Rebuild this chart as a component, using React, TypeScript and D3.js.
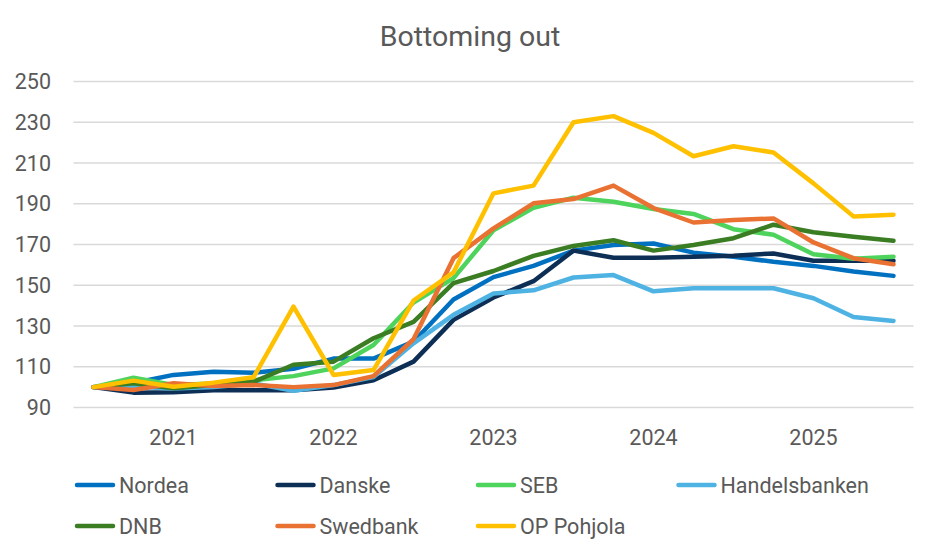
import * as d3 from "d3";
import { useEffect, useRef } from "react";

// quarterly index values, start = 100
const quarters = d3.range(21).map((i) => `Q${i}`);
const yearLabels = ["2021", "2022", "2023", "2024", "2025"];
const yearLabelIdx = [2, 6, 10, 14, 18];
const yTicks = [90, 110, 130, 150, 170, 190, 210, 230, 250];

const nordea = [100, 102, 106, 107.5, 107, 109, 114, 114, 122.3, 143, 154, 159.5, 167, 169.8, 170.5, 166, 164, 161.5, 159.5, 156.7, 154.6];
const danske = [100, 97.3, 97.5, 98.5, 98.5, 98.5, 99.8, 103.4, 112.5, 133, 144, 152, 167, 163.5, 163.5, 164, 164.5, 165.6, 162, 162, 162];
const seb = [100, 104.6, 101, 101.8, 103.4, 105.4, 109.2, 120.7, 141.5, 153.5, 177, 188, 193, 191, 187.4, 185, 177.5, 174.8, 165.2, 163, 164];
const handelsbanken = [100, 100.2, 99.3, 100, 101.8, 98.2, 101, 105, 121.5, 135.5, 146, 147.5, 153.8, 155, 147, 148.5, 148.5, 148.5, 143.6, 134.4, 132.5];
const dnb = [100, 101.9, 99.4, 101, 102.6, 111, 112.5, 124, 132, 151, 157, 164.4, 169.3, 172.1, 167, 169.8, 173.1, 179.7, 176, 173.8, 171.8];
const swedbank = [100, 98.6, 101.9, 100.6, 101, 100, 101, 105.4, 123.5, 163.3, 177.9, 190.2, 192.3, 198.9, 187.9, 180.8, 182, 182.8, 171, 163.3, 160.3];
const opPohjola = [100, 103.2, 100.2, 102.2, 104.8, 139.5, 106, 108.4, 142.5, 156.3, 195.1, 198.9, 230, 233, 224.8, 213.3, 218.2, 215.2, 200, 183.8, 184.6];

const seriesNames = ["Nordea", "Danske", "SEB", "Handelsbanken", "DNB", "Swedbank", "OP Pohjola"];
const seriesValues = [nordea, danske, seb, handelsbanken, dnb, swedbank, opPohjola];
const seriesColors = ["#0070C0", "#0E2F55", "#4ED35C", "#4EB3E3", "#3B7D23", "#E97132", "#FFC000"];

const W = 940;
const H = 556;
const FONT = "Roboto, 'Liberation Sans', sans-serif";
const TEXT = "#595959";

export default function App() {
  const svgRef = useRef<SVGSVGElement>(null);

  useEffect(() => {
    if (!svgRef.current) return;
    const svg = d3.select(svgRef.current);
    svg.selectAll("*").remove();

    const x = d3.scaleBand<string>().domain(quarters).range([73.5, 913.5]);
    const y = d3.scaleLinear().domain([90, 250]).range([407.5, 81.5]);
    const cx = (i: number) => (x(quarters[i]) ?? 0) + x.bandwidth() / 2;

    svg
      .append("rect")
      .attr("width", W)
      .attr("height", H)
      .attr("fill", "#fff");

    svg
      .append("text")
      .attr("x", 470)
      .attr("y", 45.5)
      .attr("text-anchor", "middle")
      .attr("font-family", FONT)
      .attr("font-size", 28.5)
      .attr("fill", TEXT)
      .text("Bottoming out");

    // gridlines + y labels
    const grid = svg.append("g");
    grid
      .selectAll("line")
      .data(yTicks)
      .enter()
      .append("line")
      .attr("x1", 73.5)
      .attr("x2", 913.5)
      .attr("y1", (d) => y(d))
      .attr("y2", (d) => y(d))
      .attr("stroke", "#D9D9D9")
      .attr("stroke-width", 1.5);
    grid
      .selectAll("text")
      .data(yTicks)
      .enter()
      .append("text")
      .attr("x", 51)
      .attr("y", (d) => y(d) + 7.5)
      .attr("text-anchor", "end")
      .attr("font-family", FONT)
      .attr("font-size", 21.5)
      .attr("fill", TEXT)
      .text((d) => d);

    // year labels
    svg
      .append("g")
      .selectAll("text")
      .data(yearLabels)
      .enter()
      .append("text")
      .attr("x", (_, i) => cx(yearLabelIdx[i]))
      .attr("y", 445)
      .attr("text-anchor", "middle")
      .attr("font-family", FONT)
      .attr("font-size", 21.5)
      .attr("fill", TEXT)
      .text((d) => d);

    const line = d3
      .line<number>()
      .x((_, i) => cx(i))
      .y((d) => y(d));

    svg
      .append("g")
      .selectAll("path")
      .data(seriesValues)
      .enter()
      .append("path")
      .attr("d", (d) => line(d))
      .attr("fill", "none")
      .attr("stroke", (_, i) => seriesColors[i])
      .attr("stroke-width", 4.5)
      .attr("stroke-linejoin", "round")
      .attr("stroke-linecap", "round");

    // legend, 4 per row
    const item = svg
      .append("g")
      .selectAll("g")
      .data(seriesNames)
      .enter()
      .append("g")
      .attr("transform", (_, i) => `translate(${75 + (i % 4) * 200.5},${i < 4 ? 485 : 526})`);
    item
      .append("line")
      .attr("x1", 2)
      .attr("x2", 38)
      .attr("stroke", (_, i) => seriesColors[i])
      .attr("stroke-width", 4.5)
      .attr("stroke-linecap", "round");
    item
      .append("text")
      .attr("x", 44)
      .attr("y", 7.5)
      .attr("font-family", FONT)
      .attr("font-size", 21.5)
      .attr("fill", TEXT)
      .text((d) => d);
  }, []);

  return (
    <svg
      ref={svgRef}
      width={W}
      height={H}
      style={{ position: "absolute", left: 0, top: 0 }}
    />
  );
}
